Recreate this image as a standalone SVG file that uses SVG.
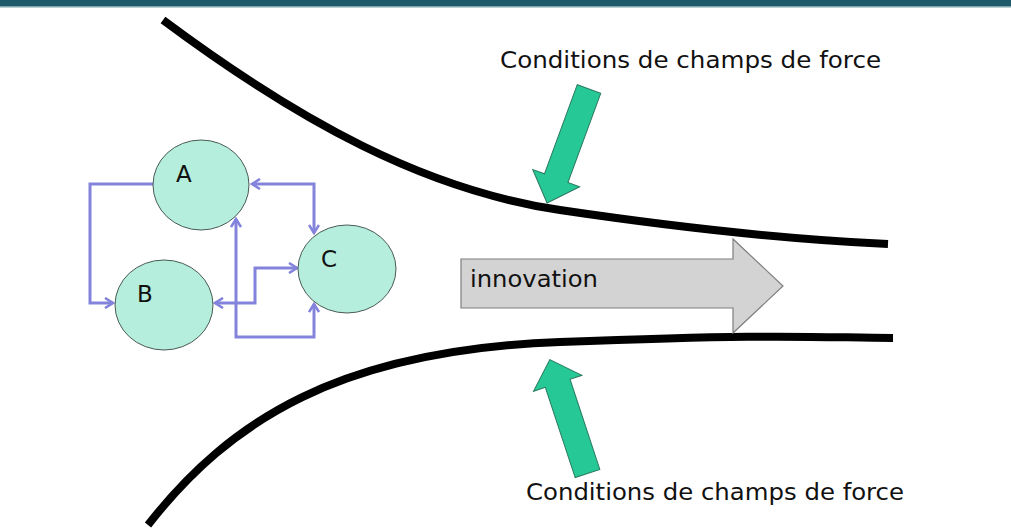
<svg xmlns="http://www.w3.org/2000/svg" width="1011" height="530" viewBox="0 0 1011 530">
<style>
.node ellipse{fill:#b5eedd;stroke:#4a5a55;stroke-width:1}
.lbl{font-family:"DejaVu Sans",Verdana,sans-serif;font-size:23px;fill:#111}
.conn path{fill:none;stroke:#8383dc;stroke-width:3}
.green{fill:#26c996;stroke:#2a7a60;stroke-width:1}
.funnel{fill:none;stroke:#000;stroke-width:8;stroke-linecap:butt}
</style>
<defs>
<marker id="ah" viewBox="0 0 12 12" refX="10" refY="6" markerWidth="12" markerHeight="12" markerUnits="userSpaceOnUse" orient="auto-start-reverse">
<path d="M2,1 L10,6 L2,11" fill="none" stroke="#8383dc" stroke-width="2.6"/>
</marker>
</defs>
<rect width="1011" height="530" fill="#fff"/>
<rect x="0" y="0" width="1011" height="6" fill="#1f5a6b"/>
<rect x="0" y="6" width="1011" height="1.5" fill="#7fa3ad"/>

<g id="funnel">
<path class="funnel" d="M163,20 C300,122 425,190 560,210 S800,240 888,244"/>
<path class="funnel" d="M148,525 C230,420 340,350 560,342 S800,337 893,338"/>
</g>

<g id="innovation">
<path d="M461,259 H733 V239 L783,286 L733,333 V308 H461 Z" fill="#d3d3d3" stroke="#7f7f7f" stroke-width="1.2"/>
<text class="lbl" x="470" y="287" font-size="24" textLength="128" lengthAdjust="spacingAndGlyphs">innovation</text>
</g>

<g id="force-top">
<path class="green" transform="translate(589,89) rotate(110.2)" d="M0,-12.5 H95 V-25 L121.5,0 L95,25 V12.5 H0 Z"/>
<text class="lbl" x="500" y="68" font-size="24" textLength="381" lengthAdjust="spacingAndGlyphs">Conditions de champs de force</text>
</g>

<g id="force-bottom">
<path class="green" transform="translate(587.5,473.5) rotate(-108.3)" d="M0,-13 H95 V-25.5 L120,0 L95,25.5 V13 H0 Z"/>
<text class="lbl" x="526" y="500" font-size="24" textLength="378" lengthAdjust="spacingAndGlyphs">Conditions de champs de force</text>
</g>

<g class="conn" id="connectors">
<path d="M153,184 H90 V303 H113" marker-end="url(#ah)"/>
<path d="M252,184 H314 V233" marker-start="url(#ah)" marker-end="url(#ah)"/>
<path d="M215,303 H255 V268 H297" marker-start="url(#ah)" marker-end="url(#ah)"/>
<path d="M236,219 V337 H314 V304" marker-start="url(#ah)" marker-end="url(#ah)"/>
</g>

<g class="node" id="A">
<ellipse cx="201" cy="185" rx="48" ry="45"/>
<text class="lbl" x="176" y="182">A</text>
</g>
<g class="node" id="B">
<ellipse cx="164" cy="305" rx="49" ry="45"/>
<text class="lbl" x="137" y="302">B</text>
</g>
<g class="node" id="C">
<ellipse cx="347" cy="269" rx="49" ry="44"/>
<text class="lbl" x="321" y="267">C</text>
</g>
</svg>
